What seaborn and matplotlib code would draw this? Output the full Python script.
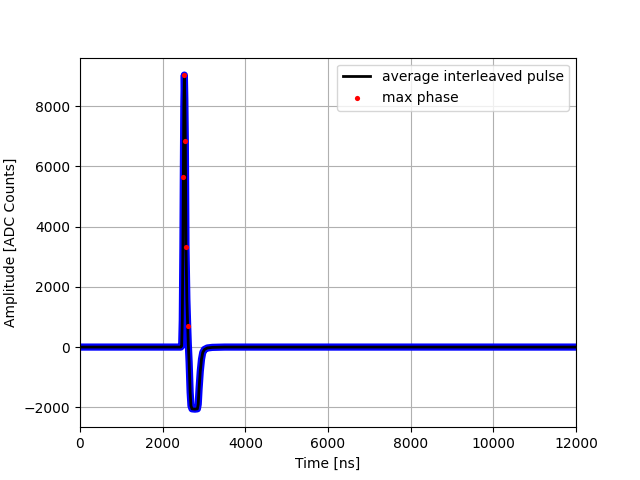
import matplotlib
matplotlib.use("Agg")
import matplotlib.pyplot as plt
import seaborn as sns
import pandas as pd

# Average interleaved pulse (time in ns, amplitude in ADC counts)
pulse_time = [0, 2440, 2460, 2475, 2490, 2500, 2512, 2524, 2536, 2548, 2564,
              2585, 2605, 2620, 2640, 2665, 2685, 2710, 2780, 2840, 2860,
              2880, 2910, 2940, 2970, 3010, 3080, 3200, 3500, 12000]
pulse_amp = [0, 0, 40, 900, 3300, 5640, 8000, 9030, 8200, 6840, 3310,
             1600, 700, 100, -500, -1500, -1950, -2050, -2060, -2050, -1900,
             -1400, -800, -400, -180, -80, -30, -10, 0, 0]

# Max-phase samples
max_time = [2500, 2524, 2548, 2564, 2605]
max_amp = [5640, 9030, 6840, 3310, 700]

pulse = pd.DataFrame({"t": pulse_time, "a": pulse_amp})
maxph = pd.DataFrame({"t": max_time, "a": max_amp})

fig, ax = plt.subplots(figsize=(6.4, 4.8), dpi=100)

# individual samples (blue band)
sns.lineplot(data=pulse, x="t", y="a", ax=ax, color="blue", linewidth=5.2,
             estimator=None, sort=False, label="_nolegend_", legend=False)
# average pulse
sns.lineplot(data=pulse, x="t", y="a", ax=ax, color="black", linewidth=2,
             estimator=None, sort=False, label="average interleaved pulse", legend=False)
# max phase
sns.scatterplot(data=maxph, x="t", y="a", ax=ax, color="red", marker="o", s=14,
                linewidth=0, label="max phase", legend=False, zorder=3)

ax.set_xlim(0, 12000)
ax.set_ylim(-2660, 9610)
ax.set_xticks([0, 2000, 4000, 6000, 8000, 10000, 12000])
ax.set_yticks([-2000, 0, 2000, 4000, 6000, 8000])
ax.grid(True)
ax.set_xlabel("Time [ns]")
ax.set_ylabel("Amplitude [ADC Counts]")
ax.legend(loc="upper right")

fig.savefig("out.png", dpi=100)
